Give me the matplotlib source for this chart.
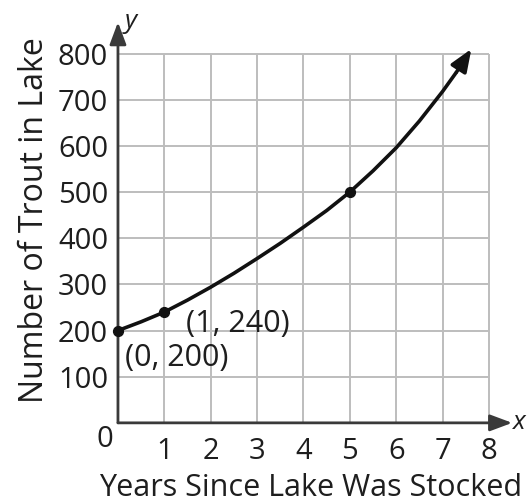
import matplotlib
matplotlib.use("Agg")
import matplotlib.pyplot as plt

# values
years = [0, 0.5, 1, 1.5, 2, 2.5, 3, 3.5, 4, 4.5, 5, 5.5, 6, 6.5, 7, 7.3, 7.62]
trout = [200, 219, 240, 266, 294, 324, 356, 389, 424, 460, 500, 546, 596, 654, 718, 760, 810]

marked_x = [0, 1, 5]
marked_y = [200, 240, 500]
marked_labels = ["(0, 200)", "(1, 240)"]

x_ticks = [1, 2, 3, 4, 5, 6, 7, 8]
y_ticks = [100, 200, 300, 400, 500, 600, 700, 800]

plt.rcParams["font.family"] = ["Open Sans", "DejaVu Sans"]
text_col = "#1e1e1e"
axis_col = "#3a3a3a"
grid_col = "#bdbdbd"

fig = plt.figure(figsize=(5.29, 5.04), dpi=100)
ax = fig.add_axes([0.223, 0.161, 0.754, 0.806])
ax.set_xlim(0, 8.6)
ax.set_ylim(0, 880)
for s in ax.spines.values():
    s.set_visible(False)

# grid limited to the 8 x 800 box
ax.vlines(x_ticks, 0, y_ticks[-1], color=grid_col, lw=1.4, zorder=1)
ax.hlines(y_ticks, 0, x_ticks[-1], color=grid_col, lw=1.4, zorder=1)

# axes with arrows
arrow = dict(arrowstyle="-|>,head_length=0.75,head_width=0.28", color=axis_col,
             lw=2, mutation_scale=18, shrinkA=0, shrinkB=0)
ax.annotate("", xy=(8.5, 0), xytext=(0, 0), arrowprops=arrow, zorder=3)
ax.annotate("", xy=(0, 868), xytext=(0, 0), arrowprops=arrow, zorder=3)
ax.text(8.52, 0, "x", style="italic", fontsize=19, color=text_col,
        ha="left", va="center")
ax.text(0.14, 870, "y", style="italic", fontsize=19, color=text_col,
        ha="left", va="center")

ax.set_xticks(x_ticks)
ax.set_yticks(y_ticks)
ax.tick_params(length=0, labelsize=21, labelcolor=text_col)
ax.tick_params(axis="x", pad=10)
ax.tick_params(axis="y", pad=7)
ax.text(-0.28, -36, "0", fontsize=21, color=text_col, ha="center", va="center")

# curve with arrow at the end
ax.plot(years[:-1], trout[:-1], color="#111111", lw=2.6, zorder=4,
        solid_capstyle="butt")
ax.annotate("", xy=(years[-1], trout[-1]), xytext=(years[-2], trout[-2]),
            arrowprops=dict(arrowstyle="-|>,head_length=0.75,head_width=0.3",
                            color="#111111", lw=2.6, mutation_scale=18,
                            shrinkA=0, shrinkB=0), zorder=4)
ax.scatter(marked_x, marked_y, s=50, color="#111111", zorder=5, clip_on=False)

ax.text(marked_x[0] + 0.15, marked_y[0] - 60, marked_labels[0], fontsize=22,
        color=text_col, ha="left", va="center")
ax.text(marked_x[1] + 0.47, marked_y[1] - 25, marked_labels[1], fontsize=22,
        color=text_col, ha="left", va="center")

ax.set_xlabel("Years Since Lake Was Stocked", fontsize=22, color=text_col)
ax.xaxis.set_label_coords(0.483, -0.124)
ax.set_ylabel("Number of Trout in Lake", fontsize=23, color=text_col,
              labelpad=5)

fig.savefig("out.png", dpi=100)
